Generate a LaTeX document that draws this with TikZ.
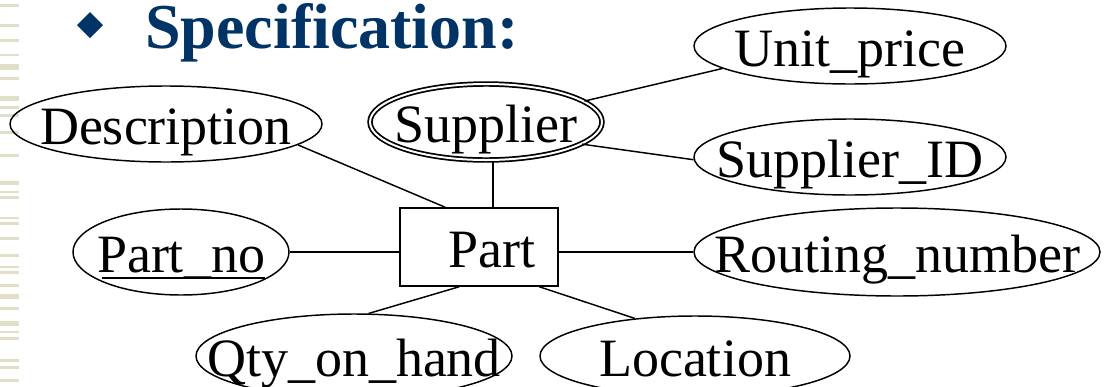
\documentclass[tikz,border=0pt]{standalone}
\usepackage{fontspec}
\setmainfont{Liberation Serif}
\usetikzlibrary{shapes.geometric,calc}
\definecolor{titleblue}{RGB}{0,51,102}
\definecolor{stripe}{RGB}{226,223,200}
% a label of no size of its own, set with its baseline 15pt below the node centre
\newcommand\lbl[1]{\makebox[0pt]{\raisebox{-15pt}[0pt][0pt]{#1}}}
\begin{document}
\begin{tikzpicture}[x=0.75pt,y=-0.75pt,
  attr/.style={ellipse,draw,line width=1.1pt,inner sep=0pt,
    font=\fontsize{40.5}{40.5}\selectfont},
  entity/.style={rectangle,draw,line width=1.1pt,inner sep=0pt,
    minimum width=118.5pt,minimum height=58.5pt,
    font=\fontsize{40.5}{40.5}\selectfont},
  weak/.style={attr,double,double distance=1.5pt,line width=1.3pt},
  link/.style={line width=1.1pt},
]
\useasboundingbox (0,0) rectangle (1106,386);
\clip (0,0) rectangle (1106,386);

% striped slide margin
\foreach \y/\h in {4/3,24/3,39/3,54/2,64/6,77/3,96/5,106/3,114/3,131/3,
                   154/3,181/4,191/2,196/3,217/2,222/3,237/3,254/3,
                   266/2,271/3,284/3,294/5,307/3,321/5,331/2,337/3,
                   359/3,366/3,379/3}
  \fill[stripe] (0,\y) rectangle (19,\y+\h);

% heading
\fill[titleblue] (90,12) -- (103,25) -- (90,38) -- (77,25) -- cycle;
\node[anchor=base west,inner sep=0pt,text=titleblue,
      font=\fontsize{48}{48}\selectfont\bfseries] (title) at (145,48) {Specification:};

% entity and attributes
\node[entity] (part) at (479,247) {\lbl{\kern19pt Part}};
\node[weak,minimum width=174pt,minimum height=57pt] (sup) at (486,122) {\lbl{Supplier}};
\node[attr,minimum width=234pt,minimum height=57pt] (desc) at (166,124) {\lbl{Description}};
\node[attr,minimum width=234pt,minimum height=57pt] (unit) at (850,46) {\lbl{Unit\_price}};
\node[attr,minimum width=234pt,minimum height=57pt] (sid) at (850,157) {\lbl{Supplier\_ID}};
\node[attr,minimum width=162pt,minimum height=64.5pt] (pno) at (181,252)
  {\lbl{Part\_no\llap{\rule[-5pt]{122pt}{1.6pt}}}};
\node[attr,minimum width=304.5pt,minimum height=66pt] (rn) at (897,252) {\lbl{Routing\_number}};
\node[attr,minimum width=237pt,minimum height=63pt] (qty) at (354,356) {\lbl{Qty\_on\_hand}};
\node[attr,minimum width=232.5pt,minimum height=60pt] (loc) at (695,356) {\lbl{Location}};

% connectors
\draw[link] (desc.-9.5) -- ($(part.north west)+(46,0)$);
\draw[link] (sup.-80) -- (sup.-80 |- part.north);
\draw[link] (sup.12) -- (unit.190);
\draw[link] (sup.-13) -- (sid.181);
\draw[link] (pno.east) -- (pno.east -| part.west);
\draw[link] (rn.west) -- (rn.west -| part.east);
\draw[link] ($(part.south west)+(60,0)$) -- (qty.71);
\draw[link] ($(part.south west)+(140,0)$) -- (loc.148);
\end{tikzpicture}
\end{document}
